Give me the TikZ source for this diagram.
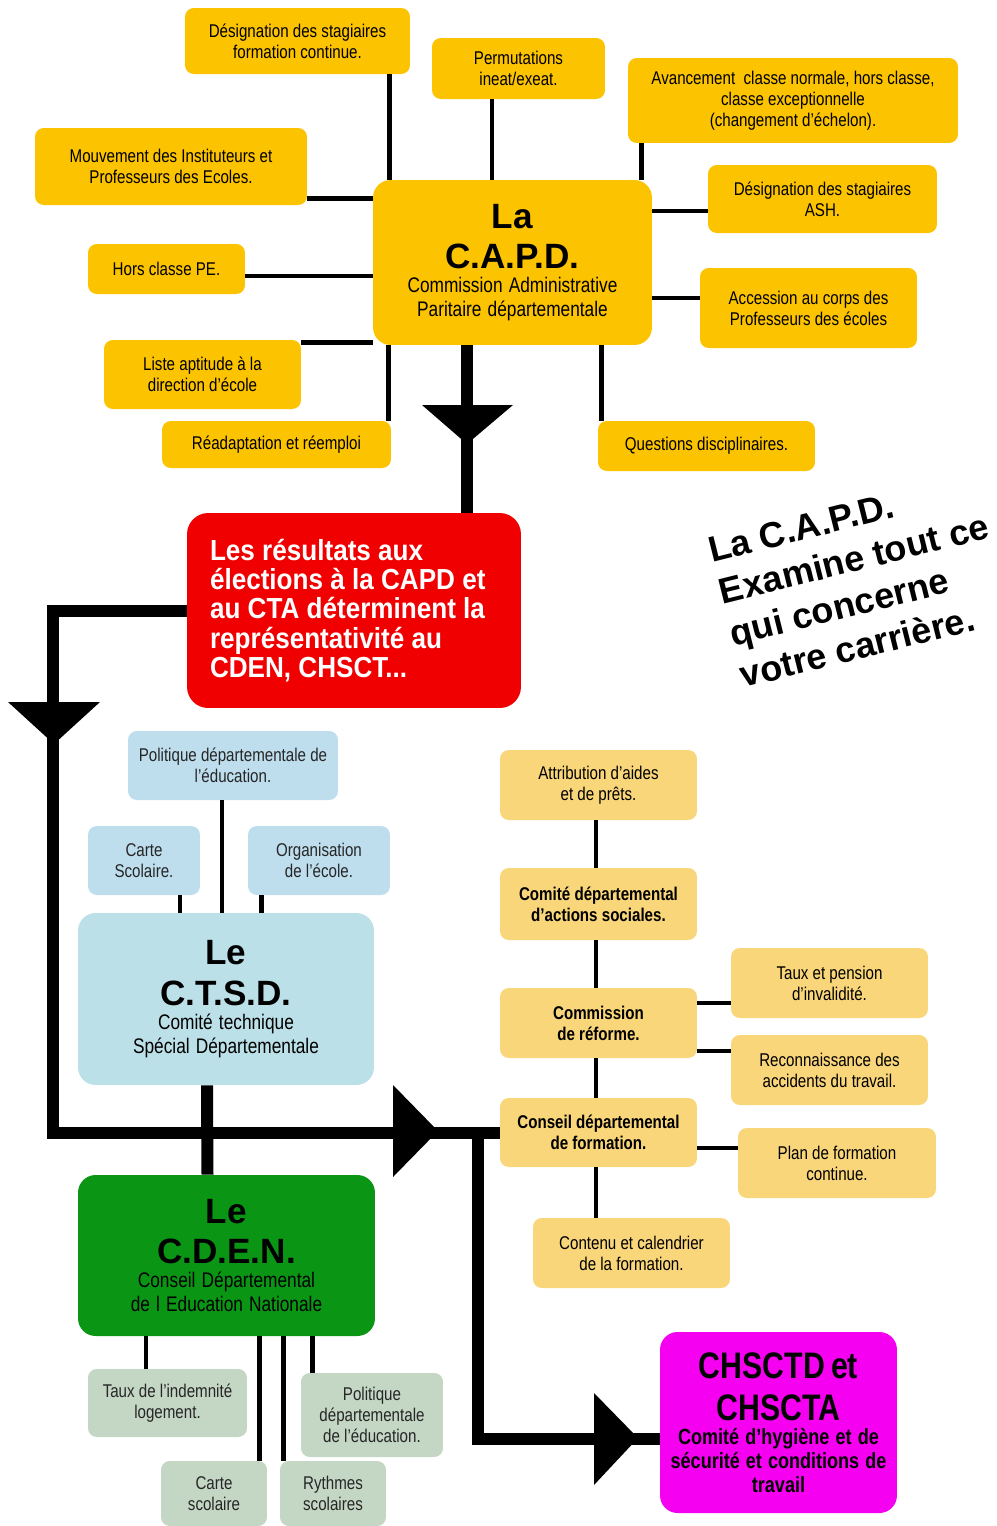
\documentclass[tikz,border=0pt]{standalone}
\usepackage{fontspec}
\setmainfont{Liberation Sans}
\newfontfamily\narrow[FakeStretch=0.82]{Liberation Sans}
\newfontfamily\semi[FakeStretch=0.9]{Liberation Sans}
\usetikzlibrary{calc}

\definecolor{capdgold}{RGB}{252,195,0}
\definecolor{sand}{RGB}{249,214,122}
\definecolor{sky}{RGB}{190,222,238}
\definecolor{skydeep}{RGB}{188,224,232}
\definecolor{sage}{RGB}{196,214,196}
\definecolor{leaf}{RGB}{10,150,20}
\definecolor{alarm}{RGB}{240,0,0}
\definecolor{fuchsia}{RGB}{245,0,240}

\newcommand\capfont{\rmfamily\fontsize{20}{23}\selectfont\bfseries}
\newcommand\subfont{\narrow\fontsize{12}{13.6}\selectfont}

\tikzset{
  box/.style={rounded corners=5pt, inner sep=2pt, align=center, font=\narrow\fontsize{10.5}{12}\selectfont},
  gold/.style={box, fill=capdgold},
  sandbox/.style={box, fill=sand},
  skybox/.style={box, fill=sky, text=black!85},
  sagebox/.style={box, fill=sage, text=black!85},
  link/.style={line width=0.09cm},
  flow/.style={line width=0.24cm},
}

\begin{document}
\begin{tikzpicture}[x=0.02cm, y=-0.02cm]
    \useasboundingbox (0,0) rectangle (997,1526);

        \node[gold, minimum width=4.5cm, minimum height=1.32cm] (dfc) at (297.5,41) {Désignation des stagiaires\\formation continue.};
        \node[gold, minimum width=3.46cm, minimum height=1.22cm] (perm) at (518.5,68.5) {Permutations\\ineat/exeat.};
        \node[gold, minimum width=6.6cm, minimum height=1.7cm] (avan) at (793,100.5) {Avancement\ \ classe normale, hors classe,\\classe exceptionnelle\\(changement d’échelon).};
        \node[gold, minimum width=5.44cm, minimum height=1.54cm] (mouv) at (171,166.5) {Mouvement des Instituteurs et\\Professeurs des Ecoles.};
        \node[gold, minimum width=4.58cm, minimum height=1.36cm] (ash) at (822.5,199) {Désignation des stagiaires\\ASH.};
        \node[gold, minimum width=3.14cm, minimum height=1cm] (hcpe) at (166.5,269) {Hors classe PE.};
        \node[gold, minimum width=4.34cm, minimum height=1.6cm] (acc) at (808.5,308) {Accession au corps des\\Professeurs des écoles};
        \node[gold, minimum width=3.94cm, minimum height=1.38cm] (lad) at (202.5,374.5) {Liste aptitude à la\\direction d’école};
        \node[gold, minimum width=4.58cm, minimum height=0.94cm] (rea) at (276.5,444.5) {Réadaptation et réemploi};
        \node[gold, minimum width=4.34cm, minimum height=1cm] (qd) at (706.5,446) {Questions disciplinaires.};

        \node[gold, rounded corners=10pt, minimum width=5.58cm, minimum height=3.3cm, text width=5.4cm] (capd) at (512.5,262.5)
            {{\capfont La\\C.A.P.D.\par}{\subfont Commission Administrative\\Paritaire départementale\par}};

        \node[box, fill=alarm, text=white, rounded corners=12pt, minimum width=6.68cm, minimum height=3.9cm, text width=5.76cm, align=left,
            font=\semi\bfseries\fontsize{16.5}{16.6}\selectfont] (red) at (354,610.5)
            {\spaceskip=0pt\relax Les résultats aux\\élections à la CAPD et\\au CTA déterminent la\\représentativité au\\CDEN, CHSCT...};

        \node[rotate=14, anchor=north west, align=left, inner sep=0pt, font=\bfseries\fontsize{20.5}{24.5}\selectfont] (note) at (706,538)
            {La C.A.P.D.\\Examine tout ce\\qui concerne\\votre carrière.};

        \node[skybox, minimum width=4.2cm, minimum height=1.38cm] (pol) at (233,765.5) {Politique départementale de\\l’éducation.};
        \node[skybox, minimum width=2.24cm, minimum height=1.38cm] (cs) at (144,860.5) {Carte\\Scolaire.};
        \node[skybox, minimum width=2.84cm, minimum height=1.38cm] (org) at (319,860.5) {Organisation\\de l’école.};
        \node[box, fill=skydeep, rounded corners=10pt, minimum width=5.92cm, minimum height=3.44cm, text width=5.7cm] (ctsd) at (226,999)
            {{\capfont Le\\C.T.S.D.\par}{\subfont Comité technique\\Spécial Départementale\par}};

        \node[box, fill=leaf, rounded corners=10pt, minimum width=5.94cm, minimum height=3.22cm, text width=5.7cm] (cden) at (226.5,1255.5)
            {{\capfont Le\\C.D.E.N.\par}{\subfont\color{black} Conseil Départemental\\de l Education Nationale\par}};
        \node[sagebox, minimum width=3.18cm, minimum height=1.36cm] (til) at (167.5,1403) {Taux de l’indemnité\\logement.};
        \node[sagebox, minimum width=2.84cm, minimum height=1.68cm] (pde) at (372,1415) {Politique\\départementale\\de l’éducation.};
        \node[sagebox, minimum width=2.12cm, minimum height=1.3cm] (csc) at (214,1493.5) {Carte\\scolaire};
        \node[sagebox, minimum width=2.12cm, minimum height=1.3cm] (ryt) at (333,1493.5) {Rythmes\\scolaires};

        \node[sandbox, minimum width=3.94cm, minimum height=1.4cm] (aap) at (598.5,785) {Attribution d’aides\\et de prêts.};
        \node[sandbox, minimum width=3.94cm, minimum height=1.44cm, font=\narrow\bfseries\fontsize{10.5}{12}\selectfont] (cdas) at (598.5,904) {Comité départemental\\d’actions sociales.};
        \node[sandbox, minimum width=3.94cm, minimum height=1.4cm, font=\narrow\bfseries\fontsize{10.5}{12}\selectfont] (cref) at (598.5,1023) {Commission\\de réforme.};
        \node[sandbox, minimum width=3.94cm, minimum height=1.38cm, font=\narrow\bfseries\fontsize{10.5}{12}\selectfont] (cdf) at (598.5,1132.5) {Conseil départemental\\de formation.};
        \node[sandbox, minimum width=3.94cm, minimum height=1.4cm] (ccf) at (631.5,1253) {Contenu et calendrier\\de la formation.};
        \node[sandbox, minimum width=3.94cm, minimum height=1.4cm] (tpi) at (829.5,983) {Taux et pension\\d’invalidité.};
        \node[sandbox, minimum width=3.94cm, minimum height=1.4cm] (rat) at (829.5,1070) {Reconnaissance des\\accidents du travail.};
        \node[sandbox, minimum width=3.96cm, minimum height=1.4cm] (pfc) at (837,1163) {Plan de formation\\continue.};

        \node[box, fill=fuchsia, rounded corners=10pt, minimum width=4.74cm, minimum height=3.62cm, text width=4.5cm] (chsct) at (778.5,1422.5)
            {{\narrow\bfseries\fontsize{21}{24}\selectfont CHSCTD et\\CHSCTA\par}{\narrow\bfseries\fontsize{12.5}{13.6}\selectfont Comité d’hygiène et de\\sécurité et conditions de\\travail\par}};

        \draw[link] ([xshift=-0.42cm]dfc.south east) -- ([xshift=-0.42cm]dfc.south east |- capd.north);
        \draw[link] ([xshift=-0.53cm]perm.south) -- ([xshift=-0.53cm]perm.south |- capd.north);
        \draw[link] ([xshift=0.28cm]avan.south west) -- ([xshift=0.28cm]avan.south west |- capd.north);
        \draw[link] ([yshift=0.14cm]mouv.south east) -- ([yshift=0.14cm]mouv.south east -| capd.west);
        \draw[link] ([yshift=-0.14cm]hcpe.east) -- ([yshift=-0.14cm]hcpe.east -| capd.west);
        \draw[link] ([yshift=-0.06cm]lad.north east) -- ([yshift=-0.06cm]lad.north east -| capd.west);
        \draw[link] ([xshift=-0.06cm]rea.north east) -- ([xshift=-0.06cm]rea.north east |- capd.south);
        \draw[link] ([xshift=0.08cm]qd.north west) -- ([xshift=0.08cm]qd.north west |- capd.south);
        \draw[link] ([yshift=-0.24cm]ash.west) -- ([yshift=-0.24cm]ash.west -| capd.east);
        \draw[link] ([yshift=0.2cm]acc.west) -- ([yshift=0.2cm]acc.west -| capd.east);

        \draw[link] ([xshift=-0.22cm]pol.south) -- ([xshift=-0.22cm]pol.south |- ctsd.north);
        \draw[link] ([xshift=0.72cm]cs.south) -- ([xshift=0.72cm]cs.south |- ctsd.north);
        \draw[link] ([xshift=0.28cm]org.south west) -- ([xshift=0.28cm]org.south west |- ctsd.north);

        \draw[link] ([xshift=-0.43cm]til.north) -- ([xshift=-0.43cm]til.north |- cden.south);
        \draw[link] ([xshift=-0.16cm]csc.north east) -- ([xshift=-0.16cm]csc.north east |- cden.south);
        \draw[link] ([xshift=0.08cm]ryt.north west) -- ([xshift=0.08cm]ryt.north west |- cden.south);
        \draw[link] ([xshift=0.24cm]pde.north west) -- ([xshift=0.24cm]pde.north west |- cden.south);

        \draw[link] ([xshift=-0.05cm]aap.south) -- ([xshift=-0.05cm]cdas.north);
        \draw[link] ([xshift=-0.05cm]cdas.south) -- ([xshift=-0.05cm]cref.north);
        \draw[link] ([xshift=-0.05cm]cref.south) -- ([xshift=-0.05cm]cdf.north);
        \draw[link] ([xshift=-0.05cm]cdf.south) -- ([xshift=-0.05cm]cdf.south |- ccf.north);
        \draw[link] ([yshift=-0.4cm]tpi.west) -- ([yshift=-0.4cm]tpi.west -| cref.east);
        \draw[link] ([yshift=0.38cm]rat.west) -- ([yshift=0.38cm]rat.west -| cref.east);
        \draw[link] ([yshift=0.3cm]pfc.west) -- ([yshift=0.3cm]pfc.west -| cdf.east);

        \coordinate (turn) at (53,900);
        \coordinate (split) at (478,1127);
        \draw[flow] ([xshift=-0.92cm]capd.south) -- ([xshift=-0.92cm]capd.south |- red.north);
        \draw[flow] (red.west) -| (turn) |- (cdf.west);
        \draw[flow] ([xshift=-0.38cm]ctsd.south) -- ([xshift=-0.38cm]cden.north);
        \draw[flow] (split) |- ([yshift=-0.32cm]chsct.west);

        \fill (422,405) -- (513,405) -- (467,444) -- cycle;
        \fill (8,702) -- (100,702) -- (54,744) -- cycle;
        \fill (393,1085) -- (393,1177) -- (438,1131) -- cycle;
        \fill (594,1393) -- (594,1485) -- (638,1438) -- cycle;

    \end{tikzpicture}
\end{document}
